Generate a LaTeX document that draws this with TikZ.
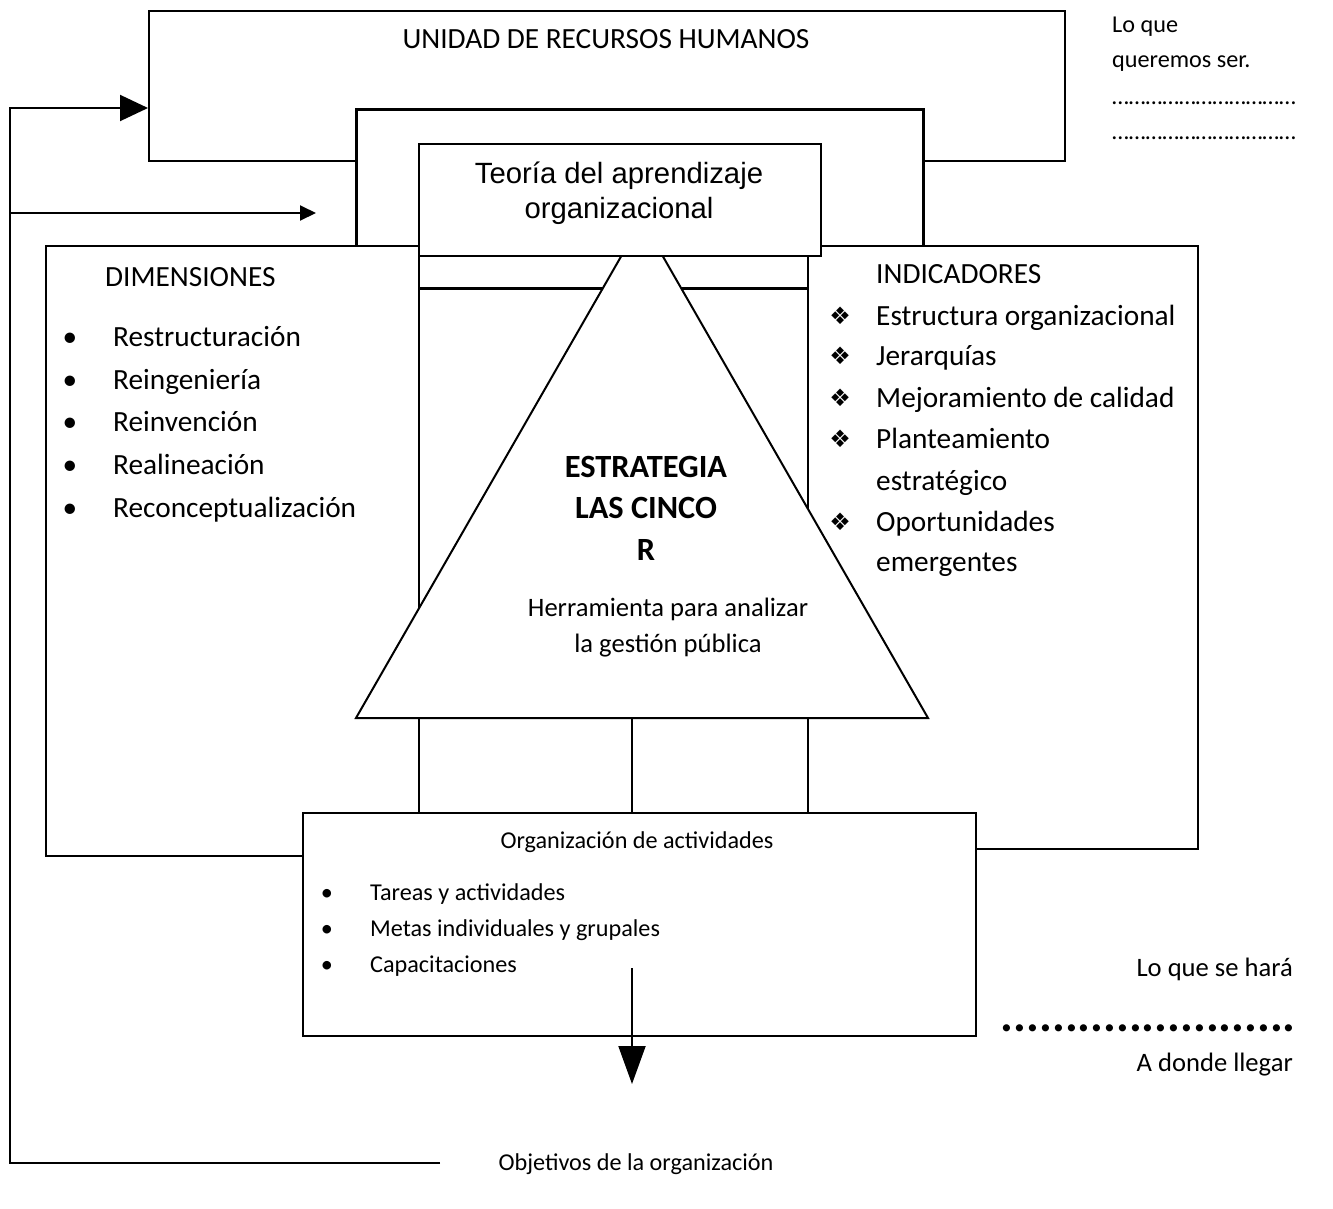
\documentclass[tikz,border=0pt]{standalone}
\usepackage{fontspec}
\setmainfont{Carlito}
\newfontfamily\arialf{Liberation Sans}
\newfontfamily\dejavu{DejaVu Sans}
\usetikzlibrary{arrows.meta}
\newcommand\fsz[1]{\fontsize{#1}{#1}\selectfont}
\begin{document}
\begin{tikzpicture}[x=1pt,y=-1pt,
  box/.style={draw, line width=2pt, fill=white, inner sep=0pt, anchor=north west},
  thickbox/.style={box, line width=3pt},
  ln/.style={line width=2pt},
  thickln/.style={line width=3pt},
  thinln/.style={line width=1.3pt},
  big/.style={inner sep=0pt, font=\fsz{29.3}},
  bold/.style={inner sep=0pt, font=\bfseries\fsz{32.4}},
  mid/.style={inner sep=0pt, font=\fsz{26.6}},
  small/.style={inner sep=0pt, font=\fsz{24.2}},
  dia/.style={inner sep=0pt, font=\dejavu\fsz{24}}
]
\useasboundingbox[fill=white] (0,0) rectangle (1333,1208);

% boxes
\node[box, minimum width=916pt, minimum height=150pt] (top) at (148,10) {};
\node[thickbox, minimum width=567pt, minimum height=137pt] (second) at (355,108) {};
\node[box, minimum width=555pt, minimum height=610pt] (left) at (45,245) {};
\node[box, minimum width=497pt, minimum height=603pt] (right) at (700,245) {};
\node[box, minimum width=389pt, minimum height=557pt] (frame) at (418,255) {};
\coordinate (fl) at (418,288);
\coordinate (fr) at (807,288);
\draw[thickln] (fl) -- (fr);

% triangle
\coordinate (apex) at (642,220);
\coordinate (bl) at (356,718);
\coordinate (br) at (928,718);
\draw[ln, fill=white] (apex) -- (bl) -- (br) -- cycle;

\node[box, minimum width=402pt, minimum height=112pt] (theory) at (418,143) {};
\node[box, minimum width=673pt, minimum height=223pt] (org) at (302,812) {};

\coordinate (tb) at (632,718);
\coordinate (ot) at (632,812);
\draw[thinln] (tb) -- (ot);

% feedback loop and arrows
\coordinate (lt) at (10,108);
\coordinate (lm) at (10,213);
\coordinate (lb) at (10,1163);
\coordinate (be) at (440,1163);
\coordinate (am) at (316,213);
\draw[ln, -{Triangle[length=28pt,width=26pt]}] (be) -- (lb) -- (lt) -- (top.west |- lt);
\draw[ln, -{Triangle[length=16pt,width=15pt]}] (lm) -- (am);
\coordinate (ds) at (632,968);
\coordinate (de) at (632,1084);
\draw[ln, -{Triangle[length=38pt,width=27pt]}] (ds) -- (de);

% texts
\node[big, anchor=base] (title) at (606,48) {UNIDAD DE RECURSOS HUMANOS};
\node[inner sep=0pt, font=\arialf\fsz{29.3}, anchor=base] (th1) at (619,183) {Teoría del aprendizaje};
\node[inner sep=0pt, font=\arialf\fsz{29.3}, anchor=base] (th2) at (619,218) {organizacional};

\node[big, anchor=base west] (dim) at (105,286) {DIMENSIONES};
\foreach \y/\t [count=\i] in {346/Restructuración,389/Reingeniería,431/Reinvención,474/Realineación,517/Reconceptualización}{
  \node[big, anchor=base] (db\i) at (70,\y) {•};
  \node[big, anchor=base west] (dt\i) at (113,\y) {\t};
}

\node[big, anchor=base west] (ind) at (876,283) {INDICADORES};
\foreach \y/\t [count=\i] in {325/Estructura organizacional,365/Jerarquías,407/Mejoramiento de calidad,448/Planteamiento,490/estratégico,531/Oportunidades,571/emergentes}{
  \node[big, anchor=base west] (it\i) at (876,\y) {\t};
}
\foreach \y [count=\i] in {316,356,398,439,522}{
  \node[dia, anchor=center] (id\i) at (840,\y) {❖};
}

\node[bold, anchor=base] (e1) at (646,477) {ESTRATEGIA};
\node[bold, anchor=base] (e2) at (646,518) {LAS CINCO};
\node[bold, anchor=base] (e3) at (646,560) {R};
\node[mid, anchor=base] (h1) at (668,616) {Herramienta para analizar};
\node[mid, anchor=base] (h2) at (668,652) {la gestión pública};

\node[small, anchor=base] (orgt) at (637,848) {Organización de actividades};
\foreach \y/\t [count=\i] in {900/Tareas y actividades,936/Metas individuales y grupales,972/Capacitaciones}{
  \node[small, anchor=base] (ob\i) at (327,\y) {•};
  \node[small, anchor=base west] (ot\i) at (370,\y) {\t};
}
\node[small, anchor=base] (obj) at (636,1170) {Objetivos de la organización};

\node[small, anchor=base west] (r1) at (1112,32) {Lo que};
\node[small, anchor=base west] (r2) at (1112,67) {queremos ser.};
\node[small, anchor=base west] (r3) at (1112,104) {……………………………};
\node[small, anchor=base west] (r4) at (1112,139) {……………………………};
\node[mid, anchor=base east] (s1) at (1293,976) {Lo que se hará};
\node[inner sep=0pt, font=\bfseries\fsz{48}, anchor=base east] (s2) at (1296,1031) {.......................};
\node[mid, anchor=base east] (s3) at (1293,1071) {A donde llegar};
\end{tikzpicture}
\end{document}
